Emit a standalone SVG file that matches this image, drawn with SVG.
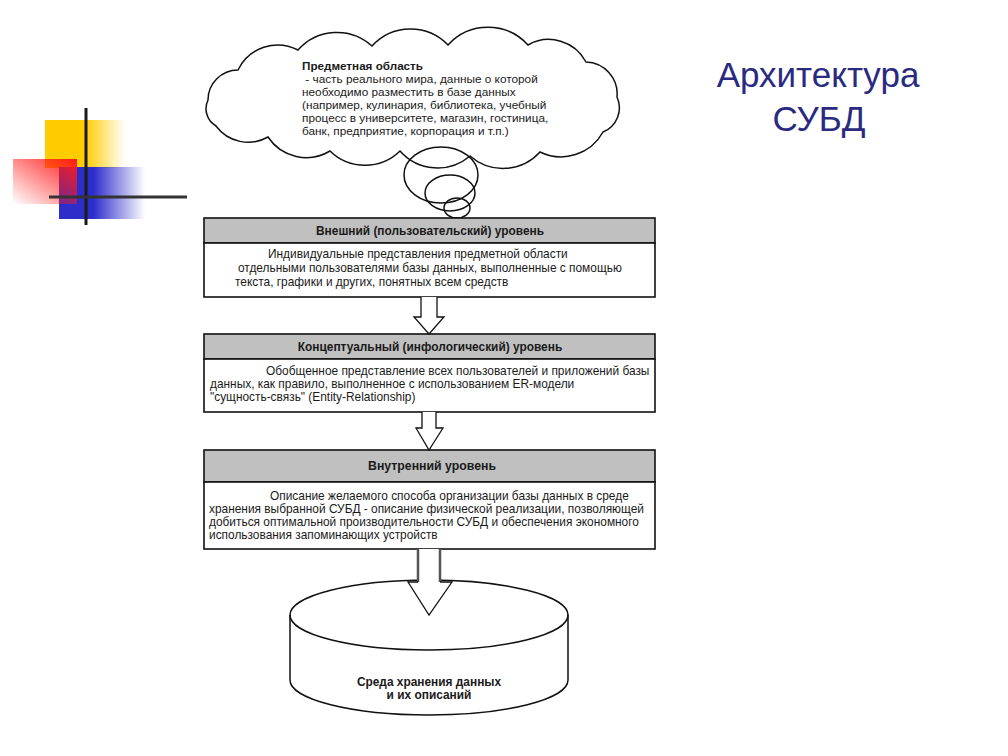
<svg xmlns="http://www.w3.org/2000/svg" width="1008" height="756" viewBox="0 0 1008 756">
<defs>
<linearGradient id="gy" x1="0" y1="0" x2="1" y2="0"><stop offset="0" stop-color="#ffcc00"/><stop offset="0.5" stop-color="#ffcc00"/><stop offset="1" stop-color="#ffcc00" stop-opacity="0"/></linearGradient>
<linearGradient id="gb" x1="0" y1="0" x2="1" y2="0"><stop offset="0" stop-color="#2d2dcc"/><stop offset="0.4" stop-color="#2d2dcc"/><stop offset="1" stop-color="#2d2dcc" stop-opacity="0"/></linearGradient>
<linearGradient id="gr" x1="1" y1="0" x2="0" y2="1"><stop offset="0" stop-color="#ff1a1a"/><stop offset="1" stop-color="#ff1a1a" stop-opacity="0"/></linearGradient>
<linearGradient id="gl" x1="0" y1="0" x2="1" y2="0"><stop offset="0" stop-color="#c4c4c4"/><stop offset="1" stop-color="#c4c4c4" stop-opacity="0"/></linearGradient>
<style>
.t{font-family:"Liberation Sans",Arial,sans-serif;font-size:11.9px;fill:#1a1a1a}
.s{font-size:11.8px}
.m{font-size:11.9px}
.b{font-weight:bold}
.c{text-anchor:middle}
.hd{fill:#c0c0c0;stroke:#111;stroke-width:1.6}
.bd{fill:#fff;stroke:#111;stroke-width:1.6}
.ln{fill:none;stroke:#111;stroke-width:1.5}
.ar{fill:#fff;stroke:#111;stroke-width:1.3}
.ttl{font-family:"Liberation Sans",Arial,sans-serif;font-size:35px;fill:#2a2a80;text-anchor:middle}
</style>
</defs>
<rect width="1008" height="756" fill="#fff"/>
<g id="decor">
<rect x="45" y="120" width="80" height="48" fill="url(#gy)"/>
<rect x="59" y="167" width="86" height="52" fill="url(#gb)"/>
<rect x="13" y="159" width="64" height="45" fill="url(#gr)"/>
<line x1="86" y1="108" x2="86" y2="225" stroke="#1a1a1a" stroke-width="3"/>
<line x1="49" y1="197" x2="187" y2="197" stroke="#333" stroke-width="3"/>
<line x1="675" y1="198" x2="905" y2="198" stroke="url(#gl)" stroke-width="3"/>
</g>
<g id="title">
<text class="ttl" x="818" y="87">Архитектура</text>
<text class="ttl" x="819" y="131">СУБД</text>
</g>
<g id="cloud">
<path class="ln" fill="#fff" d="M208,100 A30,30 0 0 1 238,70 A44,44 0 0 1 298,50 A52,52 0 0 1 372,46 A52,52 0 0 1 448,45 A54,54 0 0 1 528,45 A42,42 0 0 1 586,62 A32,32 0 0 1 617,97 A26,26 0 0 1 603,132 A48,48 0 0 1 540,152 A50,50 0 0 1 470,156 A50,50 0 0 1 400,151 A50,50 0 0 1 330,151 A46,46 0 0 1 268,137 A40,40 0 0 1 216,126 A20,20 0 0 1 208,100 Z"/>
<text class="t s"><tspan class="b" x="302" y="70" textLength="121" lengthAdjust="spacingAndGlyphs">Предметная область</tspan><tspan x="302" y="83"> - часть реального мира, данные о которой</tspan><tspan x="302" y="96">необходимо разместить в базе данных</tspan><tspan x="302" y="109">(например, кулинария, библиотека, учебный</tspan><tspan x="302" y="122">процесс в университете, магазин, гостиница,</tspan><tspan x="302" y="135">банк, предприятие, корпорация и т.п.)</tspan></text>
<ellipse class="ln" cx="441" cy="175" rx="37" ry="28"/>
<ellipse class="ln" cx="450" cy="193" rx="25" ry="18"/>
<ellipse class="ln" cx="457" cy="208" rx="13" ry="10"/>
</g>
<g id="external">
<rect class="hd" x="204" y="218" width="451" height="25"/>
<rect class="bd" x="204" y="243" width="451" height="54"/>
<text class="t b c" x="430" y="235">Внешний (пользовательский) уровень</text>
<text class="t"><tspan x="268" y="258">Индивидуальные представления предметной области</tspan><tspan x="238" y="272">отдельными  пользователями базы данных, выполненные с помощью</tspan><tspan x="235" y="286">текста, графики и других, понятных всем средств</tspan></text>
</g>
<g id="conceptual">
<rect class="hd" x="204" y="334" width="451" height="25"/>
<rect class="bd" x="204" y="359" width="451" height="53"/>
<text class="t b c" x="430" y="351">Концептуальный (инфологический) уровень</text>
<text class="t"><tspan x="266" y="375">Обобщенное представление всех пользователей и приложений базы</tspan><tspan x="210" y="388">данных, как правило, выполненное с использованием ER-модели</tspan><tspan x="210" y="401">"сущность-связь" (Entity-Relationship)</tspan></text>
</g>
<g id="internal">
<rect class="hd" x="204" y="450" width="451" height="32"/>
<rect class="bd" x="204" y="482" width="451" height="67"/>
<text class="t b c" x="432" y="470" style="font-size:12.3px">Внутренний уровень</text>
<text class="t m"><tspan x="270" y="500">Описание желаемого способа организации базы данных в среде</tspan><tspan x="209" y="513">хранения выбранной СУБД - описание физической реализации, позволяющей</tspan><tspan x="209" y="526">добиться оптимальной производительности СУБД и обеспечения экономного</tspan><tspan x="209" y="539">использования запоминающих устройств</tspan></text>
</g>
<g id="storage">
<path class="ln" fill="#fff" d="M290,615 L290,680 A139,35 0 0 0 568,680 L568,615"/>
<ellipse class="ln" fill="#fff" cx="429" cy="615" rx="139" ry="35"/>
<text class="t b c" x="429" y="686">Среда хранения данных</text>
<text class="t b c" x="429" y="699">и их описаний</text>
</g>
<g id="connectors">
<path class="ar" d="M421,297 L421,317 L414,317 L429,334 L444,317 L437,317 L437,297"/>
<path class="ar" d="M422,412 L422,428 L416,428 L429,450 L443,428 L436,428 L436,412"/>
<path fill="#fff" stroke="none" d="M418,549 L418,582 L408,582 L429,615 L452,582 L440,582 L440,549 Z"/>
<path fill="none" stroke="#555" stroke-width="2.5" d="M418,549 L418,582 M440,549 L440,582"/>
<path class="ar" fill="none" d="M418,582 L408,582 L429,615 L452,582 L440,582"/>
</g>
</svg>
